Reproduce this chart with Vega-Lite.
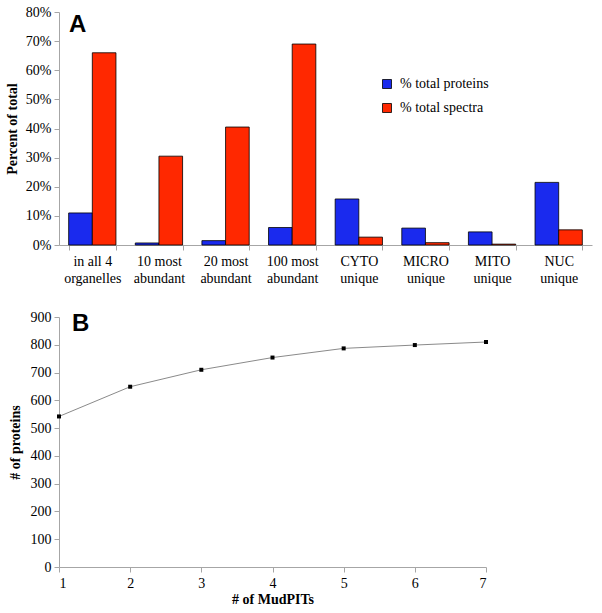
{
  "$schema": "https://vega.github.io/schema/vega-lite/v6.json",
  "padding": {"left": 5, "top": 5, "right": 5, "bottom": 3},
  "background": "white",
  "spacing": 25,
  "config": {
    "view": {"stroke": null},
    "font": "Liberation Serif",
    "style": {"guide-label": {"font": "Liberation Serif", "fontSize": 14, "fill": "black"}, "guide-title": {"font": "Liberation Serif", "fontSize": 14, "fontWeight": "bold", "fill": "black"}},
    "legend": {"labelFont": "Liberation Serif"},
    "axis": {
      "grid": false,
      "domainColor": "#a6a6a6",
      "tickColor": "#a6a6a6",
      "tickSize": 5,
      "labelFont": "Liberation Serif",
      "labelFontSize": 14,
      "labelColor": "black",
      "titleFont": "Liberation Serif",
      "titleFontSize": 14,
      "titleFontWeight": "bold",
      "titleColor": "black"
    }
  },
  "vconcat": [
    {
      "width": 533,
      "height": 233,
      "title": {"text": "A", "anchor": "start", "frame": "group", "font": "Liberation Sans", "fontSize": 24, "fontWeight": "bold", "color": "black", "baseline": "top", "offset": 0, "dx": 10, "dy": 32},
      "data": {"values": [
        {"category": "in all 4 organelles", "series": "% total proteins", "value": 0.11},
        {"category": "in all 4 organelles", "series": "% total spectra", "value": 0.66},
        {"category": "10 most abundant", "series": "% total proteins", "value": 0.007},
        {"category": "10 most abundant", "series": "% total spectra", "value": 0.305},
        {"category": "20 most abundant", "series": "% total proteins", "value": 0.015},
        {"category": "20 most abundant", "series": "% total spectra", "value": 0.405},
        {"category": "100 most abundant", "series": "% total proteins", "value": 0.06},
        {"category": "100 most abundant", "series": "% total spectra", "value": 0.69},
        {"category": "CYTO unique", "series": "% total proteins", "value": 0.158},
        {"category": "CYTO unique", "series": "% total spectra", "value": 0.027},
        {"category": "MICRO unique", "series": "% total proteins", "value": 0.058},
        {"category": "MICRO unique", "series": "% total spectra", "value": 0.008},
        {"category": "MITO unique", "series": "% total proteins", "value": 0.045},
        {"category": "MITO unique", "series": "% total spectra", "value": 0.003},
        {"category": "NUC unique", "series": "% total proteins", "value": 0.215},
        {"category": "NUC unique", "series": "% total spectra", "value": 0.052}
      ]},
      "mark": {"type": "bar", "stroke": "black", "strokeWidth": 0.8},
      "encoding": {
        "x": {
          "field": "category", "type": "nominal", "sort": null,
          "scale": {"paddingInner": 0.29, "paddingOuter": 0.145},
          "axis": {"title": null, "labelAngle": 0, "tickBand": "extent", "labelPadding": 4, "labelLineHeight": 17,
                   "labelFont": "Liberation Serif", "labelFontSize": 14, "labelColor": "black",
                   "labelExpr": "[slice(datum.label, 0, lastindexof(datum.label, ' ')), slice(datum.label, lastindexof(datum.label, ' ') + 1)]"}
        },
        "xOffset": {"field": "series", "type": "nominal", "scale": {"paddingInner": 0, "paddingOuter": 0}},
        "y": {
          "field": "value", "type": "quantitative",
          "scale": {"domain": [0, 0.8], "nice": false},
          "axis": {"title": "Percent of total", "format": ".0%", "values": [0, 0.1, 0.2, 0.3, 0.4, 0.5, 0.6, 0.7, 0.8], "labelPadding": 3, "titlePadding": 6,
                   "labelFont": "Liberation Serif", "labelFontSize": 14, "labelColor": "black",
                   "titleFont": "Liberation Serif", "titleFontSize": 14, "titleFontWeight": "bold", "titleColor": "black"}
        },
        "color": {
          "field": "series", "type": "nominal",
          "scale": {"domain": ["% total proteins", "% total spectra"], "range": ["#1a2aee", "#ff2800"]},
          "legend": {"title": null, "orient": "none", "legendX": 321, "legendY": 65, "symbolType": "square", "symbolSize": 81,
                     "symbolStrokeColor": "black", "symbolStrokeWidth": 0.8, "labelFont": "Liberation Serif", "labelFontSize": 14,
                     "labelColor": "black", "rowPadding": 10, "labelOffset": 6}
        }
      }
    },
    {
      "width": 427,
      "height": 250,
      "title": {"text": "B", "anchor": "start", "frame": "group", "font": "Liberation Sans", "fontSize": 24, "fontWeight": "bold", "color": "black", "baseline": "top", "offset": 0, "dx": 13, "dy": 26},
      "data": {"values": [
        {"mudpits": 1, "proteins": 542},
        {"mudpits": 2, "proteins": 649},
        {"mudpits": 3, "proteins": 710},
        {"mudpits": 4, "proteins": 754},
        {"mudpits": 5, "proteins": 787},
        {"mudpits": 6, "proteins": 799},
        {"mudpits": 7, "proteins": 810}
      ]},
      "encoding": {
        "x": {"field": "mudpits", "type": "quantitative", "scale": {"domain": [1, 7], "nice": false, "zero": false},
              "axis": {"title": "# of MudPITs", "values": [1, 2, 3, 4, 5, 6, 7], "labelPadding": 4, "titlePadding": 2,
                       "labelFont": "Liberation Serif", "labelFontSize": 14, "labelColor": "black",
                       "titleFont": "Liberation Serif", "titleFontSize": 14, "titleFontWeight": "bold", "titleColor": "black"}},
        "y": {"field": "proteins", "type": "quantitative", "scale": {"domain": [0, 900], "nice": false},
              "axis": {"title": "# of proteins", "values": [0, 100, 200, 300, 400, 500, 600, 700, 800, 900], "labelPadding": 3, "titlePadding": 8,
                       "labelFont": "Liberation Serif", "labelFontSize": 14, "labelColor": "black",
                       "titleFont": "Liberation Serif", "titleFontSize": 14, "titleFontWeight": "bold", "titleColor": "black"}}
      },
      "layer": [
        {"mark": {"type": "line", "color": "#8a8a8a", "strokeWidth": 1}},
        {"mark": {"type": "point", "shape": "square", "size": 16, "filled": true, "color": "black", "opacity": 1}}
      ]
    }
  ]
}
